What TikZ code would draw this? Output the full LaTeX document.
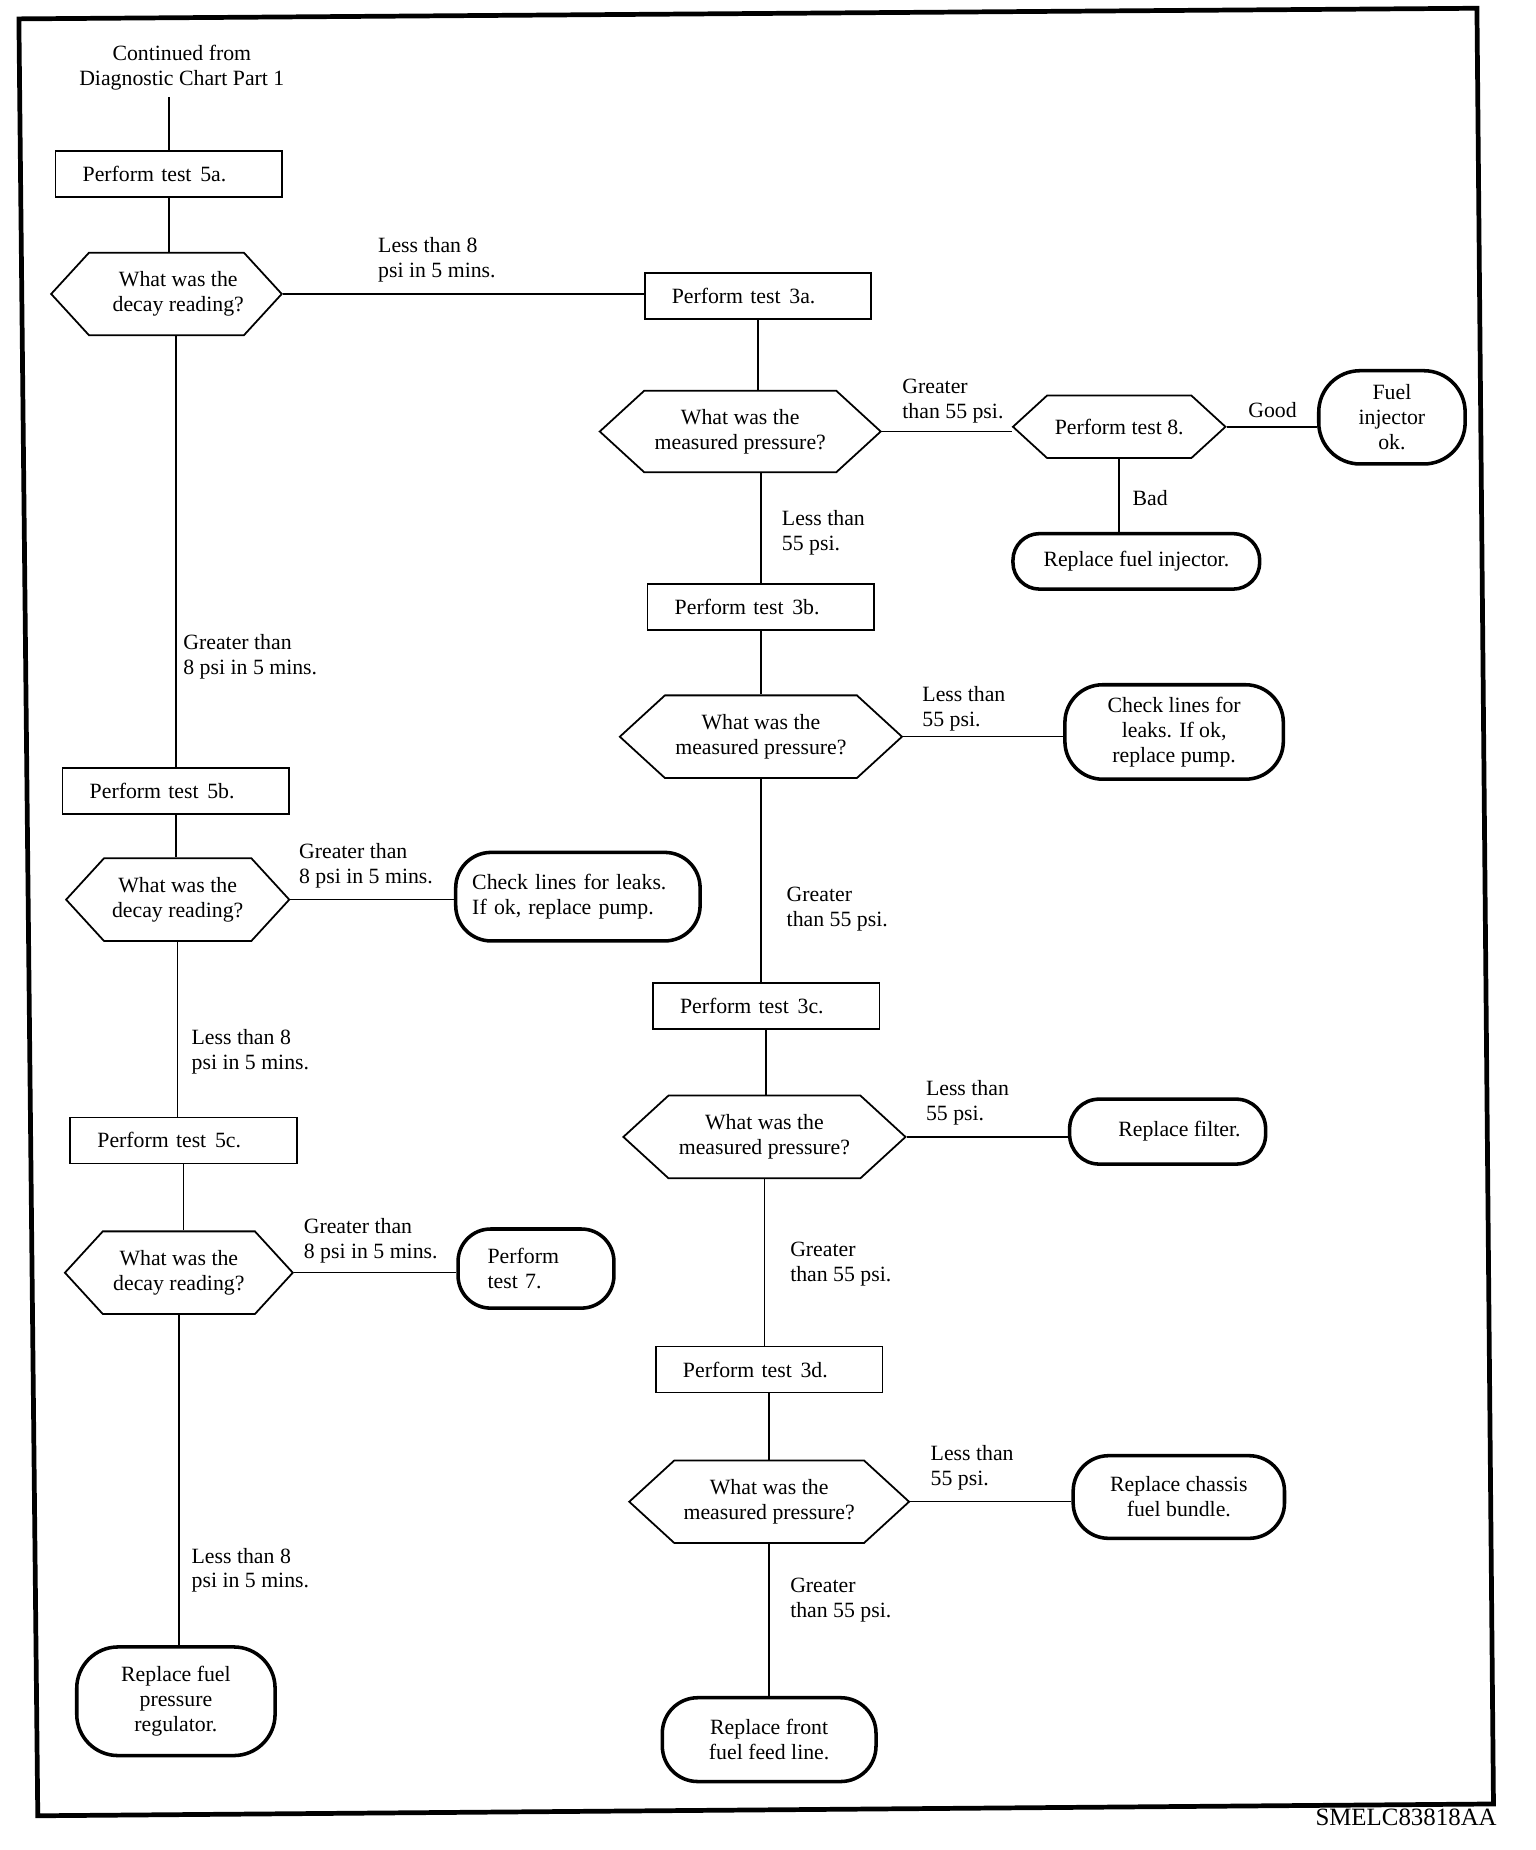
\documentclass[tikz,border=0pt]{standalone}
\usepackage{fontspec}
\setmainfont{Liberation Serif}
\usetikzlibrary{
    shapes
}
\tikzset{testbox/.style={
    draw,
    line width=0.3mm,
    text width=29.2mm,
    inner xsep=4.6mm,
    inner ysep=0pt,
    minimum height=7.8mm,
    align=left
}}
\tikzset{question/.style={
    draw,
    line width=0.3mm,
    signal,
    signal to=east and west,
    signal pointer angle=#1,
    inner sep=0pt,
    minimum height=14mm
}, question/.default=90}
\tikzset{outcome/.style={
    draw,
    line width=0.6mm,
    rounded corners=#1,
    inner sep=0pt
}, outcome/.default=6mm}
\tikzset{link/.style={line width=0.25mm}}
\tikzset{branch/.style={anchor=west, align=left, inner sep=0pt}}
\newcommand{\testno}[1]{Perform test\hspace{0.4em}#1.}

\begin{document}
\begin{tikzpicture}[
            x=0.2mm, y=-0.2mm,
            align=center,
            font=\fontsize{10.5}{12}\selectfont,
    ]
        \useasboundingbox (0,0) rectangle (1301,1567);
        \draw[line width=0.8mm] (16,16) -- (1251,7) -- (1265,1528) -- (32,1538) -- cycle;

        % left column: decay tests
        \node (cont) at (154,57)
            {Continued from\\Diagnostic Chart Part 1};

        \node[testbox] (test-5a) at (143,147.5)
            {\testno{5a}};

        \node[question=95, minimum width=38.2mm] (decay-5a) at (141,249)
            {\hspace*{4mm}What was the\\\hspace*{4mm}decay reading?};

        \node[testbox] (test-5b) at (149,670)
            {\testno{5b}};

        \node[question=95, minimum width=37.8mm] (decay-5b) at (150.5,762)
            {What was the\\decay reading?};

        \node[outcome, text width=35.8mm, inner xsep=2.8mm, minimum height=15mm, align=left]
            (leaks-5b) at (489.5,759.5)
            {Check lines for leaks.\\If ok, replace pump.};

        \node[testbox] (test-5c) at (155.5,966)
            {\testno{5c}};

        \node[question=95, minimum width=38.6mm] (decay-5c) at (151.5,1078)
            {What was the\\decay reading?};

        \node[outcome=5.5mm, text width=16.4mm, inner xsep=5mm, minimum height=13.4mm, align=left]
            (test-7) at (454,1074.5)
            {Perform\\test 7.};

        \node[outcome=7mm, minimum width=33.6mm, minimum height=18.4mm]
            (regulator) at (149,1441)
            {Replace fuel\\pressure\\regulator.};

        % right column: pressure tests
        \node[testbox] (test-3a) at (642,251)
            {\testno{3a}};

        \node[question=85, minimum width=47.6mm, minimum height=13.8mm] (pressure-3a) at (627,365.5)
            {What was the\\measured pressure?};

        \node[question=85, minimum width=36mm, minimum height=10.6mm] (test-8) at (948,361.5)
            {Perform test 8.};

        \node[outcome=7mm, minimum width=24.8mm, minimum height=15.8mm]
            (ok-8) at (1179,353.5)
            {Fuel\\injector\\ok.};

        \node[outcome=4.5mm, minimum width=41.8mm, minimum height=9.4mm]
            (injector) at (962.5,475.5)
            {Replace fuel injector.};

        \node[testbox] (test-3b) at (644.5,514)
            {\testno{3b}};

        \node[question=85, minimum width=47.8mm] (pressure-3b) at (644.5,624)
            {What was the\\measured pressure?};

        \node[outcome=6.4mm, minimum width=37mm, minimum height=16mm]
            (leaks-3b) at (994.5,620)
            {Check lines for\\leaks. If ok,\\replace pump.};

        \node[testbox] (test-3c) at (649,852)
            {\testno{3c}};

        \node[question=85, minimum width=47.8mm] (pressure-3c) at (647.5,963)
            {What was the\\measured pressure?};

        \node[outcome=5mm, minimum width=33.2mm, minimum height=11mm]
            (filter) at (989,958.5)
            {\hspace*{4mm}Replace filter.};

        \node[testbox] (test-3d) at (651.5,1160)
            {\testno{3d}};

        \node[question=85, minimum width=47.4mm] (pressure-3d) at (651.5,1272)
            {What was the\\measured pressure?};

        \node[outcome, minimum width=35.8mm, minimum height=14mm]
            (chassis) at (998.5,1268)
            {Replace chassis\\fuel bundle.};

        \node[outcome, minimum width=36.2mm, minimum height=14.2mm]
            (feedline) at (651.5,1473.5)
            {Replace front\\fuel feed line.};

        \node[font=\fontsize{12}{12}\selectfont] (figure-id) at (1191,1539)
            {SMELC83818AA};

        % branch labels
        \node[branch] (less-5a) at (320,220) {Less than 8\\psi in 5 mins.};
        \node[branch] (greater-5a) at (155,556) {Greater than\\8 psi in 5 mins.};
        \node[branch] (greater-5b) at (253,733.5) {Greater than\\8 psi in 5 mins.};
        \node[branch] (less-5b) at (162,891) {Less than 8\\psi in 5 mins.};
        \node[branch] (greater-5c) at (257,1051) {Greater than\\8 psi in 5 mins.};
        \node[branch] (less-5c) at (162,1330) {Less than 8\\psi in 5 mins.};
        \node[branch] (greater-3a) at (764,340) {Greater\\than 55 psi.};
        \node[branch] (good-8) at (1057,347) {Good};
        \node[branch] (bad-8) at (959,422) {Bad};
        \node[branch] (less-3a) at (662,451) {Less than\\55 psi.};
        \node[branch] (less-3b) at (781,600) {Less than\\55 psi.};
        \node[branch] (greater-3b) at (666,770) {Greater\\than 55 psi.};
        \node[branch] (less-3c) at (784,934) {Less than\\55 psi.};
        \node[branch] (greater-3c) at (669,1071) {Greater\\than 55 psi.};
        \node[branch] (less-3d) at (788,1243) {Less than\\55 psi.};
        \node[branch] (greater-3d) at (669,1355) {Greater\\than 55 psi.};

        \draw[link] (test-5a.north |- cont.south) -- (test-5a.north);
        \draw[link] (test-5a.south) -- (test-5a.south |- decay-5a.north);
        \draw[link] (decay-5a.east) -- (decay-5a.east -| test-3a.west);
        \draw[link] (test-5b.north |- decay-5a.south) -- (test-5b.north);
        \draw[link] (test-5b.south) -- (test-5b.south |- decay-5b.north);
        \draw[link] (decay-5b.east) -- (decay-5b.east -| leaks-5b.west);
        \draw[link] (decay-5b.south) -- (decay-5b.south |- test-5c.north);
        \draw[link] (test-5c.south) -- (test-5c.south |- decay-5c.north);
        \draw[link] (decay-5c.east) -- (decay-5c.east -| test-7.west);
        \draw[link] (decay-5c.south) -- (decay-5c.south |- regulator.north);

        \draw[link] (test-3a.south) -- (test-3a.south |- pressure-3a.north);
        \draw[link] (pressure-3a.east) -- (pressure-3a.east -| test-8.west);
        \draw[link] (test-8.east) -- (test-8.east -| ok-8.west);
        \draw[link] (test-8.south) -- (test-8.south |- injector.north);
        \draw[link] (test-3b.north |- pressure-3a.south) -- (test-3b.north);
        \draw[link] (test-3b.south) -- (test-3b.south |- pressure-3b.north);
        \draw[link] (pressure-3b.east) -- (pressure-3b.east -| leaks-3b.west);
        \draw[link] (pressure-3b.south) -- (pressure-3b.south |- test-3c.north);
        \draw[link] (test-3c.south) -- (test-3c.south |- pressure-3c.north);
        \draw[link] (pressure-3c.east) -- (pressure-3c.east -| filter.west);
        \draw[link] (pressure-3c.south) -- (pressure-3c.south |- test-3d.north);
        \draw[link] (test-3d.south) -- (test-3d.south |- pressure-3d.north);
        \draw[link] (pressure-3d.east) -- (pressure-3d.east -| chassis.west);
        \draw[link] (pressure-3d.south) -- (pressure-3d.south |- feedline.north);

    \end{tikzpicture}
\end{document}
